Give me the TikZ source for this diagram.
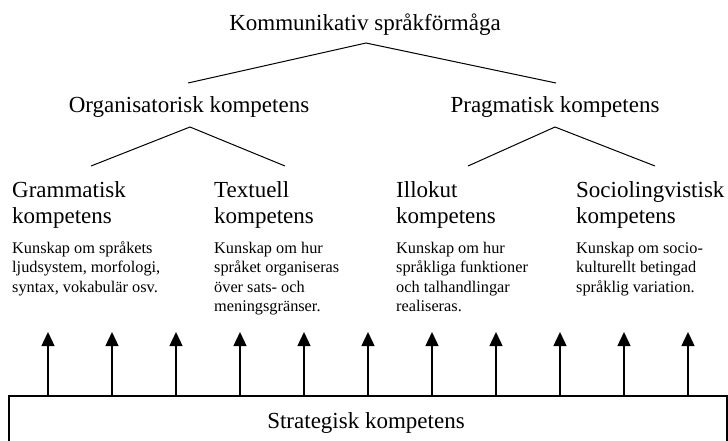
\documentclass[tikz,border=0pt]{standalone}
\usepackage{fontspec}
\setmainfont{Liberation Serif}
\usetikzlibrary{arrows.meta}
\newcommand{\colst}[1]{\begin{tabular}[t]{@{}l@{}}#1\end{tabular}}
\begin{document}
\begin{tikzpicture}[x=1pt,y=-1pt,
  big/.style={inner sep=0pt,font=\fontsize{23}{26}\selectfont},
  small/.style={inner sep=0pt,font=\fontsize{16.3}{19.5}\selectfont},
  tree/.style={line width=1pt},
  up/.style={line width=1.4pt,-{Triangle[width=13pt,length=14pt]}}]
\useasboundingbox[fill=white] (0,0) rectangle (728,440);
% titles
\node[big,anchor=base] (top) at (365,30) {Kommunikativ språkförmåga};
\node[big,anchor=base] (org) at (189,112) {Organisatorisk kompetens};
\node[big,anchor=base] (prag) at (555,112) {Pragmatisk kompetens};
% level 3 headings
\node[big,anchor=base west] (gram) at (12,197) {\colst{Grammatisk\\kompetens}};
\node[big,anchor=base west] (text) at (214,197) {\colst{Textuell\\kompetens}};
\node[big,anchor=base west] (illo) at (396,197) {\colst{Illokut\\kompetens}};
\node[big,anchor=base west] (socio) at (576,197) {\colst{Sociolingvistisk\\kompetens}};
% descriptions
\node[small,anchor=base west] (dgram) at (12,253) {\colst{Kunskap om språkets\\ljudsystem, morfologi,\\syntax, vokabulär osv.}};
\node[small,anchor=base west] (dtext) at (214,253) {\colst{Kunskap om hur\\språket organiseras\\över sats- och\\meningsgränser.}};
\node[small,anchor=base west] (dillo) at (396,253) {\colst{Kunskap om hur\\språkliga funktioner\\och talhandlingar\\realiseras.}};
\node[small,anchor=base west] (dsocio) at (576,253) {\colst{Kunskap om socio-\\kulturellt betingad\\språklig variation.}};
% tree lines
\coordinate (tA) at (366,43);
\coordinate (oL) at (188,83);
\coordinate (pL) at (556,83);
\coordinate (oA) at (190,127);
\coordinate (gL) at (91,166);
\coordinate (xL) at (285,166);
\coordinate (pA) at (555,127);
\coordinate (iL) at (468,166);
\coordinate (sL) at (655,166);
\draw[tree] (oL) -- (tA) -- (pL);
\draw[tree] (gL) -- (oA) -- (xL);
\draw[tree] (iL) -- (pA) -- (sL);
% strategic box
\draw[line width=1.2pt] (9,445) -- (9,396) -- (727,396) -- (727,445);
\node[big,anchor=base] (strat) at (366,428) {Strategisk kompetens};
\foreach \i in {0,...,10} {
  \coordinate (b\i) at ({48+64*\i},396);
  \coordinate (t\i) at ({48+64*\i},332);
  \draw[up] (b\i) -- (t\i);
}
\end{tikzpicture}
\end{document}
